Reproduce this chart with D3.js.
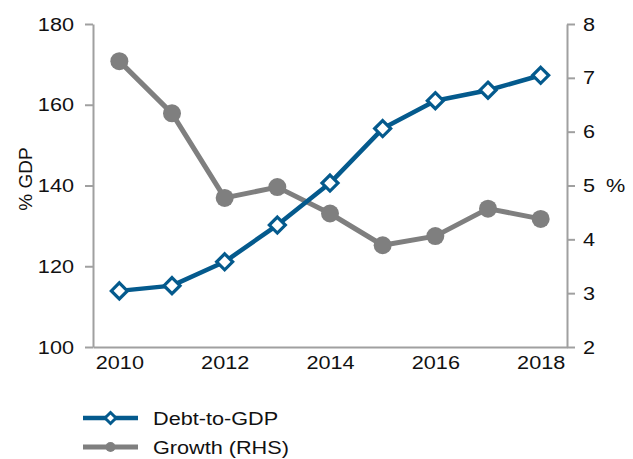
<!DOCTYPE html>
<html>
<head>
<meta charset="utf-8">
<script src="https://cdn.jsdelivr.net/npm/d3@7"></script>
<style>
  html, body { margin: 0; padding: 0; background: #fff; }
  text { font-family: "Liberation Sans", Arial, Helvetica, sans-serif; fill: #111; }
</style>
</head>
<body>
<svg id="chart" width="633" height="459"></svg>
<script>
// Data
const years = [2010, 2011, 2012, 2013, 2014, 2015, 2016, 2017, 2018];
const debtToGDP = [113.9, 115.2, 121.1, 130.2, 140.6, 154.1, 161.0, 163.6, 167.3];
const growth = [7.31, 6.34, 4.77, 4.97, 4.48, 3.89, 4.06, 4.57, 4.38];
const xTicks = [2010, 2012, 2014, 2016, 2018];
const leftTicks = [100, 120, 140, 160, 180];
const rightTicks = [2, 3, 4, 5, 6, 7, 8];
const seriesNames = ["Debt-to-GDP", "Growth (RHS)"];

const blue = "#045a8d";
const grey = "#7f7f7f";
const axisGrey = "#a0a0a0";
const fontSize = "19px";
const widen = 1.14; // horizontal widening of the lettering

const svg = d3.select("#chart");
const plot = { left: 93, right: 567, top: 24, bottom: 347 };

const x = d3.scaleLinear().domain([2009.5, 2018.5]).range([plot.left, plot.right]);
const yL = d3.scaleLinear().domain([100, 180]).range([plot.bottom, plot.top]);
const yR = d3.scaleLinear().domain([2, 8]).range([plot.bottom, plot.top]);

// widen a text element horizontally around its own anchor point
function widenText(sel) {
  sel.each(function () {
    const t = d3.select(this);
    const tx = +(t.attr("x") || 0);
    t.attr("x", 0).attr("transform", `translate(${tx},0) scale(${widen},1)`);
  });
}

function styleAxis(g) {
  g.attr("font-family", null).attr("font-size", null);
  g.selectAll("path.domain").attr("stroke", axisGrey).attr("stroke-width", 2);
  g.selectAll(".tick line").attr("stroke", axisGrey).attr("stroke-width", 2);
  g.selectAll(".tick text").style("font-size", fontSize).attr("fill", "#111").call(widenText);
}

// Axes
svg.append("g")
  .attr("transform", `translate(0,${plot.bottom})`)
  .call(d3.axisBottom(x).tickValues(xTicks).tickFormat(d3.format("d")).tickSize(0).tickPadding(9).tickSizeOuter(0))
  .call(styleAxis);

svg.append("g")
  .attr("transform", `translate(${plot.left},0)`)
  .call(d3.axisLeft(yL).tickValues(leftTicks).tickFormat(d3.format("d")).tickSize(8).tickPadding(11).tickSizeOuter(0))
  .call(styleAxis);

svg.append("g")
  .attr("transform", `translate(${plot.right},0)`)
  .call(d3.axisRight(yR).tickValues(rightTicks).tickFormat(d3.format("d")).tickSize(8).tickPadding(8).tickSizeOuter(0))
  .call(styleAxis);

// Axis titles
svg.append("text")
  .attr("transform", `translate(32,179) rotate(-90)`)
  .attr("text-anchor", "middle")
  .style("font-size", fontSize)
  .text("% GDP");

svg.append("text")
  .attr("x", 606).attr("y", 192)
  .style("font-size", fontSize)
  .text("%")
  .call(widenText);

// Growth series (right axis)
const growthLine = d3.line().x((d, i) => x(years[i])).y(d => yR(d));
svg.append("path")
  .datum(growth)
  .attr("d", growthLine)
  .attr("fill", "none")
  .attr("stroke", grey)
  .attr("stroke-width", 5)
  .attr("stroke-linejoin", "round");
svg.selectAll("circle.growth")
  .data(growth)
  .join("circle")
  .attr("class", "growth")
  .attr("cx", (d, i) => x(years[i]))
  .attr("cy", d => yR(d))
  .attr("r", 9)
  .attr("fill", grey);

// Debt series (left axis)
const debtLine = d3.line().x((d, i) => x(years[i])).y(d => yL(d));
svg.append("path")
  .datum(debtToGDP)
  .attr("d", debtLine)
  .attr("fill", "none")
  .attr("stroke", blue)
  .attr("stroke-width", 4.5)
  .attr("stroke-linejoin", "round");

const diamond = s => `M0,${-s}L${s},0L0,${s}L${-s},0Z`;
svg.selectAll("path.debt")
  .data(debtToGDP)
  .join("path")
  .attr("class", "debt")
  .attr("transform", (d, i) => `translate(${x(years[i])},${yL(d)})`)
  .attr("d", diamond(8))
  .attr("fill", "#fff")
  .attr("stroke", blue)
  .attr("stroke-width", 3.2);

// Legend
const legend = svg.append("g");
const ly = [418, 447];
legend.append("line").attr("x1", 83).attr("x2", 138).attr("y1", ly[0]).attr("y2", ly[0])
  .attr("stroke", blue).attr("stroke-width", 4.5);
legend.append("path").attr("transform", `translate(110.5,${ly[0]})`).attr("d", diamond(5.5))
  .attr("fill", "#fff").attr("stroke", blue).attr("stroke-width", 3);
legend.append("line").attr("x1", 83).attr("x2", 138).attr("y1", ly[1]).attr("y2", ly[1])
  .attr("stroke", grey).attr("stroke-width", 5);
legend.append("circle").attr("cx", 110.5).attr("cy", ly[1]).attr("r", 5).attr("fill", grey);
legend.selectAll("text")
  .data(seriesNames)
  .join("text")
  .attr("x", 153)
  .attr("y", (d, i) => ly[i] + 7)
  .style("font-size", fontSize)
  .text(d => d)
  .call(widenText);
</script>
</body>
</html>
